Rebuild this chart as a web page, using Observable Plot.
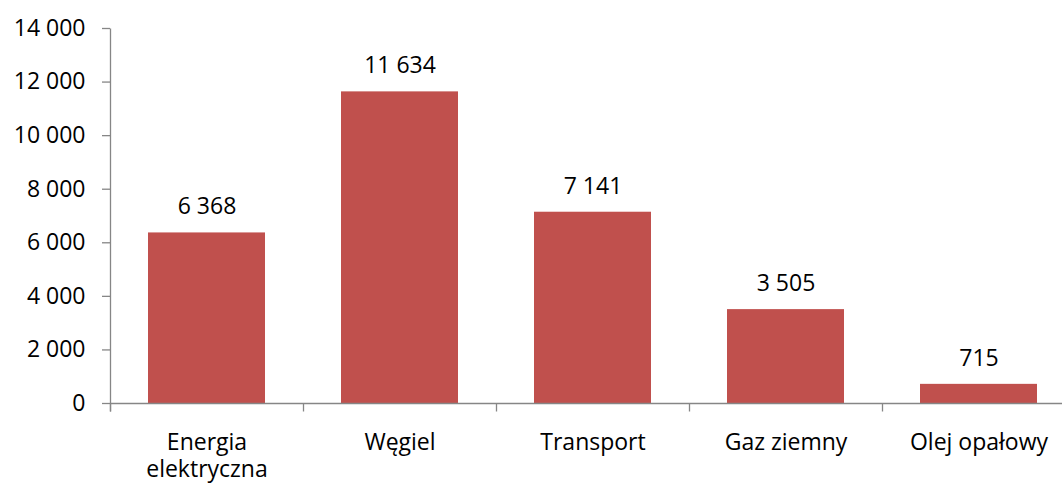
<!DOCTYPE html>
<html><head><meta charset="utf-8">
<script src="https://cdn.jsdelivr.net/npm/d3@7"></script>
<script src="https://cdn.jsdelivr.net/npm/@observablehq/plot@0.6"></script>
<style>body{margin:0;background:#fff}</style>
</head><body><div id="chart"></div>
<script>
const categories = ["Energia elektryczna", "Węgiel", "Transport", "Gaz ziemny", "Olej opałowy"];
const values = [6368, 11634, 7141, 3505, 715];
const yTicks = [0, 2000, 4000, 6000, 8000, 10000, 12000, 14000];

const data = categories.map((c, i) => ({category: c, value: values[i]}));
const fmt = d3.formatLocale({decimal: ",", thousands: "\u00a0", grouping: [3], currency: ["", ""]}).format(",");
const axisColor = "#868686";
const barColor = "#C0504D";

const axesLines = (index, scales, values, dims) => {
  const x = scales.x, y = scales.y;
  let bw = typeof x.bandwidth === "function" ? x.bandwidth() : x.bandwidth;
  if (bw == null && scales.scales && scales.scales.x) bw = scales.scales.x.bandwidth;
  const step = x(categories[1]) - x(categories[0]);
  const gap = (step - bw) / 2;
  const bounds = categories.map(c => x(c) - gap);
  bounds.push(x(categories[categories.length - 1]) + bw + gap);
  const y0 = Math.round(y(0)) + 0.5;
  const g = d3.create("svg:g").attr("stroke", axisColor).attr("stroke-width", 1.3).attr("fill", "none");
  const xl = Math.round(bounds[0]) + 0.5;
  g.append("line").attr("x1", xl).attr("x2", xl).attr("y1", Math.round(y(14000)) + 0.5).attr("y2", y0 + 8);
  g.append("line").attr("x1", xl).attr("x2", dims.width).attr("y1", y0).attr("y2", y0);
  for (const b of bounds) {
    const xb = Math.round(b) + 0.5;
    g.append("line").attr("x1", xb).attr("x2", xb).attr("y1", y0).attr("y2", y0 + 8);
  }
  return g.node();
};

const chart = Plot.plot({
  width: 1062,
  height: 483,
  marginTop: 28,
  marginBottom: 80,
  marginLeft: 110,
  marginRight: 0,
  style: {fontFamily: "'Open Sans', sans-serif", fontSize: "23px", color: "#000", background: "#fff"},
  x: {domain: categories, range: [110, 1075], paddingInner: 0.394, paddingOuter: 0.197, label: null},
  y: {domain: [0, 14000], label: null},
  marks: [
    Plot.barY(data, {x: "category", y: "value", fill: barColor}),
    Plot.text(data, {x: "category", y: "value", text: d => fmt(d.value), dy: -26, fontSize: 23, fill: "#000"}),
    Plot.axisY({ticks: yTicks, tickFormat: fmt, tickSize: 8, tickPadding: 17, stroke: axisColor, strokeWidth: 1.3, fill: "#000", fontSize: 23, label: null}),
    Plot.axisX({tickSize: 0, tickPadding: 27, tickFormat: d => d.replace(" elektryczna", "\nelektryczna"), lineHeight: 1.17, fill: "#000", fontSize: 23, label: null}),
    axesLines
  ]
});
document.getElementById("chart").append(chart);
</script>
</body></html>
